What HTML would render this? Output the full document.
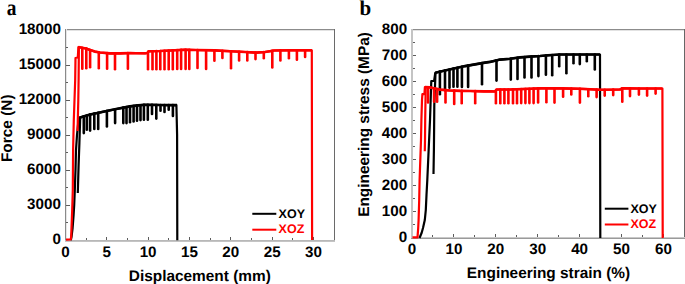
<!DOCTYPE html><html><head><meta charset="utf-8"><style>html,body{margin:0;padding:0;background:#fff;}svg{display:block;text-rendering:geometricPrecision}</style></head><body>
<svg width="685" height="284" viewBox="0 0 685 284">
<rect width="685" height="284" fill="#fff"/>
<g shape-rendering="crispEdges">
<rect x="65" y="29" width="270" height="1" fill="#8c8c8c"/>
<rect x="66" y="30" width="268" height="1" fill="#e2e2e2"/>
<rect x="65" y="29" width="1" height="213" fill="#8a8a8a"/>
<rect x="66" y="29" width="1" height="213" fill="#e6e6e6"/>
<rect x="334" y="29" width="1" height="213" fill="#6a6a6a"/>
<rect x="65" y="240" width="270" height="1" fill="#b8b8b8"/>
<rect x="65" y="241" width="270" height="1" fill="#c4c4c4"/>
<rect x="106" y="237" width="1" height="3" fill="#5c5c5c"/>
<rect x="148" y="237" width="1" height="3" fill="#5c5c5c"/>
<rect x="189" y="237" width="1" height="3" fill="#5c5c5c"/>
<rect x="230" y="237" width="1" height="3" fill="#5c5c5c"/>
<rect x="272" y="237" width="1" height="3" fill="#5c5c5c"/>
<rect x="313" y="237" width="1" height="3" fill="#5c5c5c"/>
<rect x="86" y="238" width="1" height="2" fill="#5c5c5c"/>
<rect x="127" y="238" width="1" height="2" fill="#5c5c5c"/>
<rect x="168" y="238" width="1" height="2" fill="#5c5c5c"/>
<rect x="210" y="238" width="1" height="2" fill="#5c5c5c"/>
<rect x="251" y="238" width="1" height="2" fill="#5c5c5c"/>
<rect x="292" y="238" width="1" height="2" fill="#5c5c5c"/>
<rect x="66" y="205" width="4" height="1" fill="#5c5c5c"/>
<rect x="66" y="170" width="4" height="1" fill="#5c5c5c"/>
<rect x="66" y="135" width="4" height="1" fill="#5c5c5c"/>
<rect x="66" y="100" width="4" height="1" fill="#5c5c5c"/>
<rect x="66" y="65" width="4" height="1" fill="#5c5c5c"/>
<rect x="66" y="222" width="2" height="1" fill="#5c5c5c"/>
<rect x="66" y="187" width="2" height="1" fill="#5c5c5c"/>
<rect x="66" y="152" width="2" height="1" fill="#5c5c5c"/>
<rect x="66" y="117" width="2" height="1" fill="#5c5c5c"/>
<rect x="66" y="82" width="2" height="1" fill="#5c5c5c"/>
<rect x="66" y="47" width="2" height="1" fill="#5c5c5c"/>
<rect x="411" y="29" width="274" height="1" fill="#8c8c8c"/>
<rect x="412" y="30" width="272" height="1" fill="#e2e2e2"/>
<rect x="411" y="29" width="1" height="210" fill="#c4c4c4"/>
<rect x="412" y="29" width="1" height="210" fill="#c4c4c4"/>
<rect x="684" y="29" width="1" height="210" fill="#666666"/>
<rect x="411" y="237" width="274" height="1" fill="#c8c8c8"/>
<rect x="411" y="238" width="274" height="1" fill="#9a9a9a"/>
<rect x="453" y="234" width="1" height="3" fill="#5c5c5c"/>
<rect x="495" y="234" width="1" height="3" fill="#5c5c5c"/>
<rect x="537" y="234" width="1" height="3" fill="#5c5c5c"/>
<rect x="579" y="234" width="1" height="3" fill="#5c5c5c"/>
<rect x="621" y="234" width="1" height="3" fill="#5c5c5c"/>
<rect x="663" y="234" width="1" height="3" fill="#5c5c5c"/>
<rect x="432" y="235" width="1" height="2" fill="#5c5c5c"/>
<rect x="474" y="235" width="1" height="2" fill="#5c5c5c"/>
<rect x="516" y="235" width="1" height="2" fill="#5c5c5c"/>
<rect x="558" y="235" width="1" height="2" fill="#5c5c5c"/>
<rect x="600" y="235" width="1" height="2" fill="#5c5c5c"/>
<rect x="642" y="235" width="1" height="2" fill="#5c5c5c"/>
<rect x="413" y="211" width="3" height="1" fill="#5c5c5c"/>
<rect x="413" y="185" width="3" height="1" fill="#5c5c5c"/>
<rect x="413" y="159" width="3" height="1" fill="#5c5c5c"/>
<rect x="413" y="133" width="3" height="1" fill="#5c5c5c"/>
<rect x="413" y="107" width="3" height="1" fill="#5c5c5c"/>
<rect x="413" y="81" width="3" height="1" fill="#5c5c5c"/>
<rect x="413" y="55" width="3" height="1" fill="#5c5c5c"/>
<rect x="413" y="224" width="2" height="1" fill="#5c5c5c"/>
<rect x="413" y="198" width="2" height="1" fill="#5c5c5c"/>
<rect x="413" y="172" width="2" height="1" fill="#5c5c5c"/>
<rect x="413" y="146" width="2" height="1" fill="#5c5c5c"/>
<rect x="413" y="120" width="2" height="1" fill="#5c5c5c"/>
<rect x="413" y="94" width="2" height="1" fill="#5c5c5c"/>
<rect x="413" y="68" width="2" height="1" fill="#5c5c5c"/>
<rect x="413" y="42" width="2" height="1" fill="#5c5c5c"/>
</g>
<path d="M70.80,240.30 L71.50,237.00 L72.60,228.00 L73.60,215.00 L74.20,205.00 L74.80,190.00 L75.50,170.00 L76.00,150.00 L77.00,135.00 L78.10,124.00 L79.30,117.70 L83.80,116.40 L86.80,115.53 L90.00,114.60 L90.10,114.58 L94.30,113.65 L98.20,112.80 L100.00,112.40 L106.90,110.95 L110.00,110.30 L115.10,109.28 L120.00,108.30 L123.30,107.67 L126.50,107.06 L130.00,106.40 L133.60,105.95 L137.00,105.53 L138.00,105.40 L140.50,105.19 L143.90,104.89 L145.00,104.80 L147.80,104.84 L152.00,104.89 L156.30,104.95 L160.00,105.00 L160.50,105.00 L164.50,105.03 L168.70,105.06 L172.90,105.09 L175.00,105.10 L176.40,105.10 L176.40,105.10 L177.10,135.00 L177.30,240.20" fill="none" stroke="#000" stroke-width="2.2" stroke-linejoin="round" stroke-linecap="butt"/>
<path d="M79.30,117.70 L90.00,114.60 L100.00,112.40 L110.00,110.30 L120.00,108.30 L130.00,106.40 L138.00,105.40 L145.00,104.80 L160.00,105.00 L175.00,105.10 L177.00,105.10" fill="none" stroke="#000" stroke-width="2.6" stroke-linejoin="round" stroke-linecap="butt"/>
<line x1="83.80" y1="116.40" x2="83.80" y2="133.10" stroke="#000" stroke-width="2.6" stroke-linecap="round"/>
<line x1="86.80" y1="115.53" x2="86.80" y2="129.70" stroke="#000" stroke-width="2.6" stroke-linecap="round"/>
<line x1="90.10" y1="114.58" x2="90.10" y2="130.60" stroke="#000" stroke-width="2.6" stroke-linecap="round"/>
<line x1="94.30" y1="113.65" x2="94.30" y2="128.90" stroke="#000" stroke-width="2.6" stroke-linecap="round"/>
<line x1="98.20" y1="112.80" x2="98.20" y2="128.90" stroke="#000" stroke-width="2.6" stroke-linecap="round"/>
<line x1="106.90" y1="110.95" x2="106.90" y2="126.40" stroke="#000" stroke-width="2.6" stroke-linecap="round"/>
<line x1="115.10" y1="109.28" x2="115.10" y2="123.10" stroke="#000" stroke-width="2.6" stroke-linecap="round"/>
<line x1="123.30" y1="107.67" x2="123.30" y2="123.10" stroke="#000" stroke-width="2.6" stroke-linecap="round"/>
<line x1="126.50" y1="107.06" x2="126.50" y2="123.10" stroke="#000" stroke-width="2.6" stroke-linecap="round"/>
<line x1="130.00" y1="106.40" x2="130.00" y2="122.20" stroke="#000" stroke-width="2.6" stroke-linecap="round"/>
<line x1="133.60" y1="105.95" x2="133.60" y2="121.40" stroke="#000" stroke-width="2.6" stroke-linecap="round"/>
<line x1="137.00" y1="105.53" x2="137.00" y2="120.70" stroke="#000" stroke-width="2.6" stroke-linecap="round"/>
<line x1="140.50" y1="105.19" x2="140.50" y2="120.10" stroke="#000" stroke-width="2.6" stroke-linecap="round"/>
<line x1="143.90" y1="104.89" x2="143.90" y2="119.80" stroke="#000" stroke-width="2.6" stroke-linecap="round"/>
<line x1="147.80" y1="104.84" x2="147.80" y2="119.80" stroke="#000" stroke-width="2.6" stroke-linecap="round"/>
<line x1="152.00" y1="104.89" x2="152.00" y2="113.90" stroke="#000" stroke-width="2.6" stroke-linecap="round"/>
<line x1="156.30" y1="104.95" x2="156.30" y2="118.60" stroke="#000" stroke-width="2.6" stroke-linecap="round"/>
<line x1="160.50" y1="105.00" x2="160.50" y2="110.80" stroke="#000" stroke-width="2.6" stroke-linecap="round"/>
<line x1="164.50" y1="105.03" x2="164.50" y2="112.00" stroke="#000" stroke-width="2.6" stroke-linecap="round"/>
<line x1="168.70" y1="105.06" x2="168.70" y2="109.70" stroke="#000" stroke-width="2.6" stroke-linecap="round"/>
<line x1="172.90" y1="105.09" x2="172.90" y2="115.90" stroke="#000" stroke-width="2.6" stroke-linecap="round"/>
<path d="M80.20,118.00 L79.40,143.00 L78.60,165.00 L77.80,193.00" fill="none" stroke="#000" stroke-width="2.2" stroke-linejoin="round" stroke-linecap="butt"/>
<path d="M66.00,239.60 L70.80,239.50 L71.20,236.00 L71.50,228.00 L72.20,210.00 L72.80,190.00 L73.10,150.00 L73.80,120.00 L74.50,100.00 L75.20,80.00 L75.50,58.00 L77.80,57.50 L78.40,47.00 L82.00,47.80 L82.30,47.85 L86.00,48.50 L86.30,48.60 L90.00,49.90 L90.10,49.93 L95.00,51.60 L98.80,52.28 L100.00,52.50 L107.10,53.14 L110.00,53.40 L115.00,53.40 L120.00,53.40 L127.90,53.08 L130.00,53.00 L136.00,53.20 L145.00,53.30 L147.50,53.00 L148.00,52.15 L148.50,51.30 L152.50,51.20 L156.40,51.09 L160.00,51.00 L160.30,50.98 L164.50,50.76 L168.70,50.54 L172.80,50.32 L175.00,50.20 L177.20,50.09 L181.10,49.90 L185.00,49.70 L185.60,49.72 L189.30,49.82 L196.00,50.00 L197.50,50.03 L206.10,50.21 L214.40,50.39 L215.00,50.40 L222.40,50.79 L230.00,51.20 L231.00,51.25 L239.10,51.69 L245.00,52.00 L247.30,52.13 L255.50,52.57 L256.00,52.60 L263.80,52.08 L265.00,52.00 L270.00,51.20 L272.30,50.80 L274.00,50.50 L280.40,50.42 L288.90,50.31 L290.00,50.30 L296.90,50.30 L305.10,50.30 L311.80,50.30 L311.80,50.30 L312.10,240.00" fill="none" stroke="#ff0000" stroke-width="2.2" stroke-linejoin="round" stroke-linecap="butt"/>
<path d="M78.40,47.00 L82.00,47.80 L86.00,48.50 L90.00,49.90 L95.00,51.60 L100.00,52.50 L110.00,53.40 L120.00,53.40 L130.00,53.00 L136.00,53.20 L145.00,53.30 L147.50,53.00 L148.50,51.30 L160.00,51.00 L175.00,50.20 L185.00,49.70 L196.00,50.00 L215.00,50.40 L230.00,51.20 L245.00,52.00 L256.00,52.60 L265.00,52.00 L270.00,51.20 L274.00,50.50 L290.00,50.30 L312.00,50.30" fill="none" stroke="#ff0000" stroke-width="2.6" stroke-linejoin="round" stroke-linecap="butt"/>
<line x1="82.30" y1="47.85" x2="82.30" y2="68.70" stroke="#ff0000" stroke-width="2.6" stroke-linecap="round"/>
<line x1="86.30" y1="48.60" x2="86.30" y2="68.20" stroke="#ff0000" stroke-width="2.6" stroke-linecap="round"/>
<line x1="90.10" y1="49.93" x2="90.10" y2="67.30" stroke="#ff0000" stroke-width="2.6" stroke-linecap="round"/>
<line x1="98.80" y1="52.28" x2="98.80" y2="68.20" stroke="#ff0000" stroke-width="2.6" stroke-linecap="round"/>
<line x1="107.10" y1="53.14" x2="107.10" y2="68.70" stroke="#ff0000" stroke-width="2.6" stroke-linecap="round"/>
<line x1="115.00" y1="53.40" x2="115.00" y2="69.20" stroke="#ff0000" stroke-width="2.6" stroke-linecap="round"/>
<line x1="127.90" y1="53.08" x2="127.90" y2="68.70" stroke="#ff0000" stroke-width="2.6" stroke-linecap="round"/>
<line x1="148.00" y1="52.15" x2="148.00" y2="69.20" stroke="#ff0000" stroke-width="2.6" stroke-linecap="round"/>
<line x1="152.50" y1="51.20" x2="152.50" y2="69.20" stroke="#ff0000" stroke-width="2.6" stroke-linecap="round"/>
<line x1="156.40" y1="51.09" x2="156.40" y2="69.20" stroke="#ff0000" stroke-width="2.6" stroke-linecap="round"/>
<line x1="160.30" y1="50.98" x2="160.30" y2="69.20" stroke="#ff0000" stroke-width="2.6" stroke-linecap="round"/>
<line x1="164.50" y1="50.76" x2="164.50" y2="69.20" stroke="#ff0000" stroke-width="2.6" stroke-linecap="round"/>
<line x1="168.70" y1="50.54" x2="168.70" y2="69.20" stroke="#ff0000" stroke-width="2.6" stroke-linecap="round"/>
<line x1="172.80" y1="50.32" x2="172.80" y2="69.20" stroke="#ff0000" stroke-width="2.6" stroke-linecap="round"/>
<line x1="177.20" y1="50.09" x2="177.20" y2="69.00" stroke="#ff0000" stroke-width="2.6" stroke-linecap="round"/>
<line x1="181.10" y1="49.90" x2="181.10" y2="69.00" stroke="#ff0000" stroke-width="2.6" stroke-linecap="round"/>
<line x1="185.60" y1="49.72" x2="185.60" y2="69.00" stroke="#ff0000" stroke-width="2.6" stroke-linecap="round"/>
<line x1="189.30" y1="49.82" x2="189.30" y2="69.00" stroke="#ff0000" stroke-width="2.6" stroke-linecap="round"/>
<line x1="197.50" y1="50.03" x2="197.50" y2="67.90" stroke="#ff0000" stroke-width="2.6" stroke-linecap="round"/>
<line x1="206.10" y1="50.21" x2="206.10" y2="68.90" stroke="#ff0000" stroke-width="2.6" stroke-linecap="round"/>
<line x1="214.40" y1="50.39" x2="214.40" y2="60.70" stroke="#ff0000" stroke-width="2.6" stroke-linecap="round"/>
<line x1="222.40" y1="50.79" x2="222.40" y2="58.00" stroke="#ff0000" stroke-width="2.6" stroke-linecap="round"/>
<line x1="231.00" y1="51.25" x2="231.00" y2="68.20" stroke="#ff0000" stroke-width="2.6" stroke-linecap="round"/>
<line x1="239.10" y1="51.69" x2="239.10" y2="60.50" stroke="#ff0000" stroke-width="2.6" stroke-linecap="round"/>
<line x1="247.30" y1="52.13" x2="247.30" y2="60.50" stroke="#ff0000" stroke-width="2.6" stroke-linecap="round"/>
<line x1="255.50" y1="52.57" x2="255.50" y2="59.10" stroke="#ff0000" stroke-width="2.6" stroke-linecap="round"/>
<line x1="263.80" y1="52.08" x2="263.80" y2="58.30" stroke="#ff0000" stroke-width="2.6" stroke-linecap="round"/>
<line x1="272.30" y1="50.80" x2="272.30" y2="67.50" stroke="#ff0000" stroke-width="2.6" stroke-linecap="round"/>
<line x1="280.40" y1="50.42" x2="280.40" y2="60.50" stroke="#ff0000" stroke-width="2.6" stroke-linecap="round"/>
<line x1="288.90" y1="50.31" x2="288.90" y2="58.30" stroke="#ff0000" stroke-width="2.6" stroke-linecap="round"/>
<line x1="296.90" y1="50.30" x2="296.90" y2="59.70" stroke="#ff0000" stroke-width="2.6" stroke-linecap="round"/>
<line x1="305.10" y1="50.30" x2="305.10" y2="56.90" stroke="#ff0000" stroke-width="2.6" stroke-linecap="round"/>
<path d="M78.90,47.00 L78.60,80.00 L78.30,100.00 L77.80,120.00 L77.60,131.00" fill="none" stroke="#ff0000" stroke-width="2.2" stroke-linejoin="round" stroke-linecap="butt"/>
<path d="M419.50,238.00 L421.60,233.00 L423.00,228.00 L424.80,220.00 L425.80,210.00 L426.50,195.00 L427.30,180.00 L428.20,160.00 L429.10,140.00 L430.00,120.00 L430.50,105.00 L431.30,81.00 L434.10,81.00 L435.30,72.70 L439.90,71.66 L445.00,70.50 L449.50,69.51 L453.50,68.63 L455.00,68.30 L457.40,67.77 L461.90,66.78 L465.00,66.10 L468.10,65.57 L475.00,64.40 L482.00,63.14 L485.00,62.60 L490.00,61.90 L496.50,60.41 L500.00,59.60 L510.00,58.80 L510.80,58.69 L517.50,57.75 L520.00,57.40 L524.50,57.04 L530.00,56.60 L531.50,56.51 L538.40,56.10 L540.00,56.00 L545.90,55.48 L548.00,55.30 L552.20,55.02 L559.20,54.55 L560.00,54.50 L566.40,54.50 L573.50,54.50 L579.80,54.50 L586.80,54.50 L594.80,54.50 L600.00,54.50 L600.00,54.50 L600.30,238.00" fill="none" stroke="#000" stroke-width="2.2" stroke-linejoin="round" stroke-linecap="butt"/>
<path d="M435.30,72.70 L445.00,70.50 L455.00,68.30 L465.00,66.10 L475.00,64.40 L485.00,62.60 L490.00,61.90 L500.00,59.60 L510.00,58.80 L520.00,57.40 L530.00,56.60 L540.00,56.00 L548.00,55.30 L560.00,54.50 L600.00,54.50" fill="none" stroke="#000" stroke-width="2.6" stroke-linejoin="round" stroke-linecap="butt"/>
<line x1="439.90" y1="71.66" x2="439.90" y2="94.20" stroke="#000" stroke-width="2.6" stroke-linecap="round"/>
<line x1="445.00" y1="70.50" x2="445.00" y2="90.20" stroke="#000" stroke-width="2.6" stroke-linecap="round"/>
<line x1="449.50" y1="69.51" x2="449.50" y2="87.70" stroke="#000" stroke-width="2.6" stroke-linecap="round"/>
<line x1="453.50" y1="68.63" x2="453.50" y2="86.70" stroke="#000" stroke-width="2.6" stroke-linecap="round"/>
<line x1="457.40" y1="67.77" x2="457.40" y2="86.70" stroke="#000" stroke-width="2.6" stroke-linecap="round"/>
<line x1="461.90" y1="66.78" x2="461.90" y2="86.90" stroke="#000" stroke-width="2.6" stroke-linecap="round"/>
<line x1="468.10" y1="65.57" x2="468.10" y2="86.90" stroke="#000" stroke-width="2.6" stroke-linecap="round"/>
<line x1="482.00" y1="63.14" x2="482.00" y2="84.30" stroke="#000" stroke-width="2.6" stroke-linecap="round"/>
<line x1="496.50" y1="60.41" x2="496.50" y2="80.60" stroke="#000" stroke-width="2.6" stroke-linecap="round"/>
<line x1="510.80" y1="58.69" x2="510.80" y2="79.60" stroke="#000" stroke-width="2.6" stroke-linecap="round"/>
<line x1="517.50" y1="57.75" x2="517.50" y2="78.90" stroke="#000" stroke-width="2.6" stroke-linecap="round"/>
<line x1="524.50" y1="57.04" x2="524.50" y2="77.50" stroke="#000" stroke-width="2.6" stroke-linecap="round"/>
<line x1="531.50" y1="56.51" x2="531.50" y2="77.50" stroke="#000" stroke-width="2.6" stroke-linecap="round"/>
<line x1="538.40" y1="56.10" x2="538.40" y2="76.10" stroke="#000" stroke-width="2.6" stroke-linecap="round"/>
<line x1="545.90" y1="55.48" x2="545.90" y2="74.70" stroke="#000" stroke-width="2.6" stroke-linecap="round"/>
<line x1="552.20" y1="55.02" x2="552.20" y2="75.30" stroke="#000" stroke-width="2.6" stroke-linecap="round"/>
<line x1="559.20" y1="54.55" x2="559.20" y2="66.20" stroke="#000" stroke-width="2.6" stroke-linecap="round"/>
<line x1="566.40" y1="54.50" x2="566.40" y2="73.20" stroke="#000" stroke-width="2.6" stroke-linecap="round"/>
<line x1="573.50" y1="54.50" x2="573.50" y2="63.30" stroke="#000" stroke-width="2.6" stroke-linecap="round"/>
<line x1="579.80" y1="54.50" x2="579.80" y2="64.10" stroke="#000" stroke-width="2.6" stroke-linecap="round"/>
<line x1="586.80" y1="54.50" x2="586.80" y2="61.20" stroke="#000" stroke-width="2.6" stroke-linecap="round"/>
<line x1="594.80" y1="54.50" x2="594.80" y2="69.40" stroke="#000" stroke-width="2.6" stroke-linecap="round"/>
<path d="M435.50,73.00 L434.30,105.00 L434.10,130.00 L433.90,150.00 L433.50,174.10" fill="none" stroke="#000" stroke-width="2.2" stroke-linejoin="round" stroke-linecap="butt"/>
<path d="M412.50,237.30 L417.50,237.30 L418.20,228.00 L418.60,220.00 L419.20,200.00 L419.60,180.00 L420.30,160.00 L421.00,140.00 L421.40,120.00 L422.00,100.00 L422.40,94.20 L424.40,94.20 L424.90,87.00 L428.00,87.24 L430.00,87.40 L434.10,88.30 L437.10,88.96 L440.00,89.60 L445.50,90.09 L450.00,90.50 L454.20,90.67 L460.00,90.90 L461.70,90.92 L470.00,91.00 L475.20,91.15 L484.00,91.40 L490.00,91.20 L495.30,91.50 L495.90,90.50 L496.50,89.50 L500.30,89.50 L504.40,89.50 L508.40,89.50 L510.00,89.50 L513.00,89.39 L517.00,89.25 L521.20,89.11 L525.40,88.96 L529.40,88.82 L530.00,88.80 L533.60,88.62 L538.10,88.39 L542.00,88.20 L546.40,88.25 L554.50,88.34 L560.00,88.40 L563.10,88.46 L571.30,88.63 L579.90,88.80 L580.00,88.80 L588.30,89.21 L596.60,89.63 L600.00,89.80 L604.70,89.73 L613.20,89.60 L620.00,89.50 L622.30,88.30 L630.00,88.39 L638.90,88.49 L640.00,88.50 L647.10,88.50 L655.60,88.50 L662.40,88.50 L662.40,88.50 L662.70,238.00" fill="none" stroke="#ff0000" stroke-width="2.2" stroke-linejoin="round" stroke-linecap="butt"/>
<path d="M424.90,87.00 L430.00,87.40 L440.00,89.60 L450.00,90.50 L460.00,90.90 L470.00,91.00 L484.00,91.40 L490.00,91.20 L495.30,91.50 L496.50,89.50 L510.00,89.50 L530.00,88.80 L542.00,88.20 L560.00,88.40 L580.00,88.80 L600.00,89.80 L620.00,89.50 L622.30,88.30 L640.00,88.50 L662.40,88.50" fill="none" stroke="#ff0000" stroke-width="2.6" stroke-linejoin="round" stroke-linecap="butt"/>
<line x1="428.00" y1="87.24" x2="428.00" y2="102.50" stroke="#ff0000" stroke-width="2.6" stroke-linecap="round"/>
<line x1="434.10" y1="88.30" x2="434.10" y2="101.70" stroke="#ff0000" stroke-width="2.6" stroke-linecap="round"/>
<line x1="437.10" y1="88.96" x2="437.10" y2="101.70" stroke="#ff0000" stroke-width="2.6" stroke-linecap="round"/>
<line x1="445.50" y1="90.09" x2="445.50" y2="102.50" stroke="#ff0000" stroke-width="2.6" stroke-linecap="round"/>
<line x1="454.20" y1="90.67" x2="454.20" y2="103.90" stroke="#ff0000" stroke-width="2.6" stroke-linecap="round"/>
<line x1="461.70" y1="90.92" x2="461.70" y2="103.20" stroke="#ff0000" stroke-width="2.6" stroke-linecap="round"/>
<line x1="475.20" y1="91.15" x2="475.20" y2="103.20" stroke="#ff0000" stroke-width="2.6" stroke-linecap="round"/>
<line x1="495.90" y1="90.50" x2="495.90" y2="103.30" stroke="#ff0000" stroke-width="2.6" stroke-linecap="round"/>
<line x1="500.30" y1="89.50" x2="500.30" y2="103.30" stroke="#ff0000" stroke-width="2.6" stroke-linecap="round"/>
<line x1="504.40" y1="89.50" x2="504.40" y2="103.30" stroke="#ff0000" stroke-width="2.6" stroke-linecap="round"/>
<line x1="508.40" y1="89.50" x2="508.40" y2="103.30" stroke="#ff0000" stroke-width="2.6" stroke-linecap="round"/>
<line x1="513.00" y1="89.39" x2="513.00" y2="103.30" stroke="#ff0000" stroke-width="2.6" stroke-linecap="round"/>
<line x1="517.00" y1="89.25" x2="517.00" y2="103.30" stroke="#ff0000" stroke-width="2.6" stroke-linecap="round"/>
<line x1="521.20" y1="89.11" x2="521.20" y2="103.10" stroke="#ff0000" stroke-width="2.6" stroke-linecap="round"/>
<line x1="525.40" y1="88.96" x2="525.40" y2="103.10" stroke="#ff0000" stroke-width="2.6" stroke-linecap="round"/>
<line x1="529.40" y1="88.82" x2="529.40" y2="103.10" stroke="#ff0000" stroke-width="2.6" stroke-linecap="round"/>
<line x1="533.60" y1="88.62" x2="533.60" y2="103.10" stroke="#ff0000" stroke-width="2.6" stroke-linecap="round"/>
<line x1="538.10" y1="88.39" x2="538.10" y2="102.40" stroke="#ff0000" stroke-width="2.6" stroke-linecap="round"/>
<line x1="546.40" y1="88.25" x2="546.40" y2="102.20" stroke="#ff0000" stroke-width="2.6" stroke-linecap="round"/>
<line x1="554.50" y1="88.34" x2="554.50" y2="102.60" stroke="#ff0000" stroke-width="2.6" stroke-linecap="round"/>
<line x1="563.10" y1="88.46" x2="563.10" y2="96.70" stroke="#ff0000" stroke-width="2.6" stroke-linecap="round"/>
<line x1="571.30" y1="88.63" x2="571.30" y2="94.50" stroke="#ff0000" stroke-width="2.6" stroke-linecap="round"/>
<line x1="579.90" y1="88.80" x2="579.90" y2="102.60" stroke="#ff0000" stroke-width="2.6" stroke-linecap="round"/>
<line x1="588.30" y1="89.21" x2="588.30" y2="96.20" stroke="#ff0000" stroke-width="2.6" stroke-linecap="round"/>
<line x1="596.60" y1="89.63" x2="596.60" y2="97.10" stroke="#ff0000" stroke-width="2.6" stroke-linecap="round"/>
<line x1="604.70" y1="89.73" x2="604.70" y2="95.60" stroke="#ff0000" stroke-width="2.6" stroke-linecap="round"/>
<line x1="613.20" y1="89.60" x2="613.20" y2="95.10" stroke="#ff0000" stroke-width="2.6" stroke-linecap="round"/>
<line x1="622.30" y1="88.30" x2="622.30" y2="101.80" stroke="#ff0000" stroke-width="2.6" stroke-linecap="round"/>
<line x1="630.00" y1="88.39" x2="630.00" y2="96.10" stroke="#ff0000" stroke-width="2.6" stroke-linecap="round"/>
<line x1="638.90" y1="88.49" x2="638.90" y2="94.60" stroke="#ff0000" stroke-width="2.6" stroke-linecap="round"/>
<line x1="647.10" y1="88.50" x2="647.10" y2="95.60" stroke="#ff0000" stroke-width="2.6" stroke-linecap="round"/>
<line x1="655.60" y1="88.50" x2="655.60" y2="93.60" stroke="#ff0000" stroke-width="2.6" stroke-linecap="round"/>
<path d="M425.70,87.50 L425.50,100.00 L425.20,120.00 L425.00,140.00 L424.80,151.30" fill="none" stroke="#ff0000" stroke-width="2.2" stroke-linejoin="round" stroke-linecap="butt"/>
<g font-family='"Liberation Sans", sans-serif' font-weight="bold" font-size="15.2" fill="#000">
<text x="60.9" y="243.70" text-anchor="end">0</text>
<text x="60.9" y="208.70" text-anchor="end">3000</text>
<text x="60.9" y="173.70" text-anchor="end">6000</text>
<text x="60.9" y="138.70" text-anchor="end">9000</text>
<text x="60.9" y="103.70" text-anchor="end">12000</text>
<text x="60.9" y="68.70" text-anchor="end">15000</text>
<text x="60.9" y="33.70" text-anchor="end">18000</text>
<text x="65.40" y="256.8" text-anchor="middle">0</text>
<text x="106.75" y="256.8" text-anchor="middle">5</text>
<text x="148.10" y="256.8" text-anchor="middle">10</text>
<text x="189.45" y="256.8" text-anchor="middle">15</text>
<text x="230.80" y="256.8" text-anchor="middle">20</text>
<text x="272.15" y="256.8" text-anchor="middle">25</text>
<text x="313.50" y="256.8" text-anchor="middle">30</text>
<text x="407.1" y="241.70" text-anchor="end">0</text>
<text x="407.1" y="215.70" text-anchor="end">100</text>
<text x="407.1" y="189.70" text-anchor="end">200</text>
<text x="407.1" y="163.70" text-anchor="end">300</text>
<text x="407.1" y="137.70" text-anchor="end">400</text>
<text x="407.1" y="111.70" text-anchor="end">500</text>
<text x="407.1" y="85.70" text-anchor="end">600</text>
<text x="407.1" y="59.70" text-anchor="end">700</text>
<text x="407.1" y="33.70" text-anchor="end">800</text>
<text x="412.00" y="254.1" text-anchor="middle">0</text>
<text x="453.90" y="254.1" text-anchor="middle">10</text>
<text x="495.80" y="254.1" text-anchor="middle">20</text>
<text x="537.70" y="254.1" text-anchor="middle">30</text>
<text x="579.60" y="254.1" text-anchor="middle">40</text>
<text x="621.50" y="254.1" text-anchor="middle">50</text>
<text x="663.40" y="254.1" text-anchor="middle">60</text>
</g>
<g font-family='"Liberation Sans", sans-serif' font-weight="bold" font-size="15.4" fill="#000">
<text x="199.8" y="280.8" text-anchor="middle">Displacement (mm)</text>
<text x="548.5" y="278.2" text-anchor="middle">Engineering strain (%)</text>
<text transform="translate(11.8,128.25) rotate(-90)" text-anchor="middle">Force (N)</text>
<text transform="translate(369.4,124.5) rotate(-90)" text-anchor="middle">Engineering stress (MPa)</text>
</g>
<text transform="translate(6.7,15.0) scale(0.86,1)" font-family='"Liberation Serif", serif' font-weight="bold" font-size="22.5">a</text>
<text x="359.5" y="14.8" font-family='"Liberation Serif", serif' font-weight="bold" font-size="21">b</text>
<line x1="252.3" y1="213.8" x2="276.3" y2="213.8" stroke="#000" stroke-width="2"/>
<line x1="252.3" y1="229.7" x2="276.3" y2="229.7" stroke="#ff0000" stroke-width="2"/>
<text x="278.6" y="217.60" font-family='"Liberation Sans", sans-serif' font-weight="bold" font-size="12.5" fill="#000">XOY</text>
<text x="278.6" y="233.10" font-family='"Liberation Sans", sans-serif' font-weight="bold" font-size="12.5" fill="#ff0000">XOZ</text>
<line x1="604.8" y1="208.7" x2="628.4" y2="208.7" stroke="#000" stroke-width="2"/>
<line x1="604.8" y1="224.5" x2="628.4" y2="224.5" stroke="#ff0000" stroke-width="2"/>
<text x="630.4" y="212.50" font-family='"Liberation Sans", sans-serif' font-weight="bold" font-size="12.5" fill="#000">XOY</text>
<text x="630.4" y="227.90" font-family='"Liberation Sans", sans-serif' font-weight="bold" font-size="12.5" fill="#ff0000">XOZ</text>
</svg></body></html>
